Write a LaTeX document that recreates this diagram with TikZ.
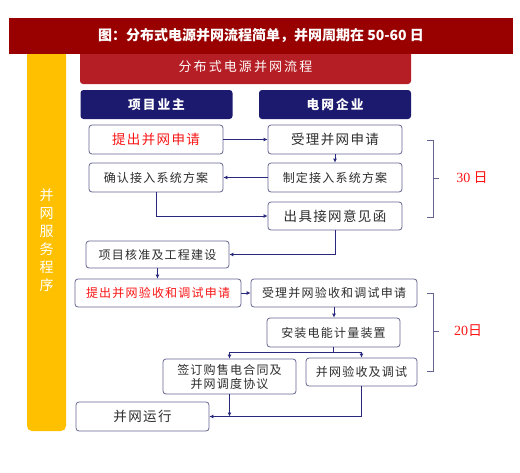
\documentclass[tikz,border=0pt]{standalone}
\usepackage{fontspec}
\setmainfont{Noto Sans CJK SC}
\newfontfamily\cjk[LetterSpace=10]{Noto Sans CJK SC}
\newfontfamily\cjkw[LetterSpace=16]{Noto Sans CJK SC}
\newfontfamily\lat{Liberation Serif}
\usetikzlibrary{arrows.meta}
\definecolor{titlered}{RGB}{153,0,0}
\definecolor{flowred}{RGB}{181,30,36}
\definecolor{navy}{RGB}{28,26,110}
\definecolor{gold}{RGB}{255,192,0}
\definecolor{boxline}{RGB}{100,100,145}
\definecolor{linkblue}{RGB}{40,40,125}
\definecolor{hotred}{RGB}{250,20,20}
\definecolor{ink}{RGB}{45,45,45}
\begin{document}
\begin{tikzpicture}[x=1pt,y=-1pt,
  box/.style={draw=boxline,fill=white,rounded corners=3pt,line width=.8pt,inner sep=0pt,
    minimum width=134pt,minimum height=29pt,text=ink,font=\cjk\fontsize{13.5}{15}\selectfont},
  small/.style={font=\cjk\fontsize{12}{14}\selectfont},
  head/.style={fill=navy,rounded corners=3pt,text=white,inner sep=0pt,minimum width=152pt,
    minimum height=29pt,font=\cjkw\fontsize{12.7}{14}\selectfont\bfseries},
  link/.style={draw=linkblue,line width=.8pt,-{Latex[length=4pt,width=4pt]}},
  brace/.style={draw=boxline,line width=.8pt},
  day/.style={text=hotred,font=\fontsize{14}{16}\selectfont}]
\useasboundingbox (0,0) rectangle (520,472);
\node[fill=gold,rounded corners=5pt,minimum width=39pt,minimum height=381pt,inner sep=0pt,
  text=white,align=center,font=\fontsize{14}{18}\selectfont] (s0) at (46.5,240.5)
  {并\\网\\服\\务\\程\\序};
\node[fill=flowred,rounded corners=3pt,minimum width=331pt,minimum height=34pt,inner sep=0pt,
  text=white!92!pink,font=\cjkw\fontsize{13}{14}\selectfont] (f0) at (245.5,67) {\raisebox{-2pt}{分布式电源并网流程}};
\node[fill=titlered,minimum width=504pt,minimum height=36pt,inner sep=0pt,text=white,
  font=\fontsize{14}{16}\selectfont\bfseries] (t0) at (261,36) {图：分布式电源并网流程简单，并网周期在 50-60 日};
\node[head] (h1) at (156.5,104.5) {项目业主};
\node[head] (h2) at (335,104.5) {电网企业};
\node[box,text=hotred] (b1) at (156,139.5) {提出并网申请};
\node[box] (b2) at (335,139.5) {受理并网申请};
\node[box,small] (b3) at (156,177.5) {确认接入系统方案};
\node[box,small] (b4) at (335,177.5) {制定接入系统方案};
\node[box,minimum height=28pt] (b5) at (335,216) {出具接网意见函};
\node[box,small,minimum width=143pt,minimum height=27pt] (b6) at (157.5,254.5) {项目核准及工程建设};
\node[box,small,text=hotred,minimum width=166pt,minimum height=28pt] (b7) at (158,293) {提出并网验收和调试申请};
\node[box,small,minimum width=166pt,minimum height=28pt] (b8) at (334,293) {受理并网验收和调试申请};
\node[box,small,minimum width=133pt] (b9) at (333.5,332.5) {安装电能计量装置};
\node[box,small,minimum width=133pt,minimum height=35pt,align=center] (b10) at (229.5,376.5) {签订购售电合同及\\并网调度协议};
\node[box,small,minimum width=111pt,minimum height=28pt] (b11) at (361.5,372) {并网验收及调试};
\node[box,minimum width=133pt] (b12) at (142.5,416.5) {并网运行};
\node[day] (d1) at (472,178) {{\lat 30} 日};
\node[day] (d2) at (468,331) {{\lat 20}日};
\coordinate (c1) at (333.5,352);
\draw[link] (b1) -- (b2);
\draw[link] (b2) -- (b4);
\draw[link] (b4) -- (b3);
\draw[link] (b3) |- (b5);
\draw[link] (b5) |- (b6);
\draw[link] (b6.south) -- (b6.south |- b7.north);
\draw[link] (b7) -- (b8);
\draw[link] (b8.south) -- (b8.south |- b9.north);
\draw[draw=linkblue,line width=.8pt] (b9) -- (c1);
\draw[link] (c1) -| (b10);
\draw[link] (c1) -| (b11);
\draw[link] (b10) -- (b10 |- b12);
\draw[link] (b11) |- (b12);
\draw[brace] (427,140) -| (433,217) -- (427,217) (433,178) -- (439,178);
\draw[brace] (427,293) -| (433,371) -- (427,371) (433,331) -- (439,331);
\end{tikzpicture}
\end{document}
